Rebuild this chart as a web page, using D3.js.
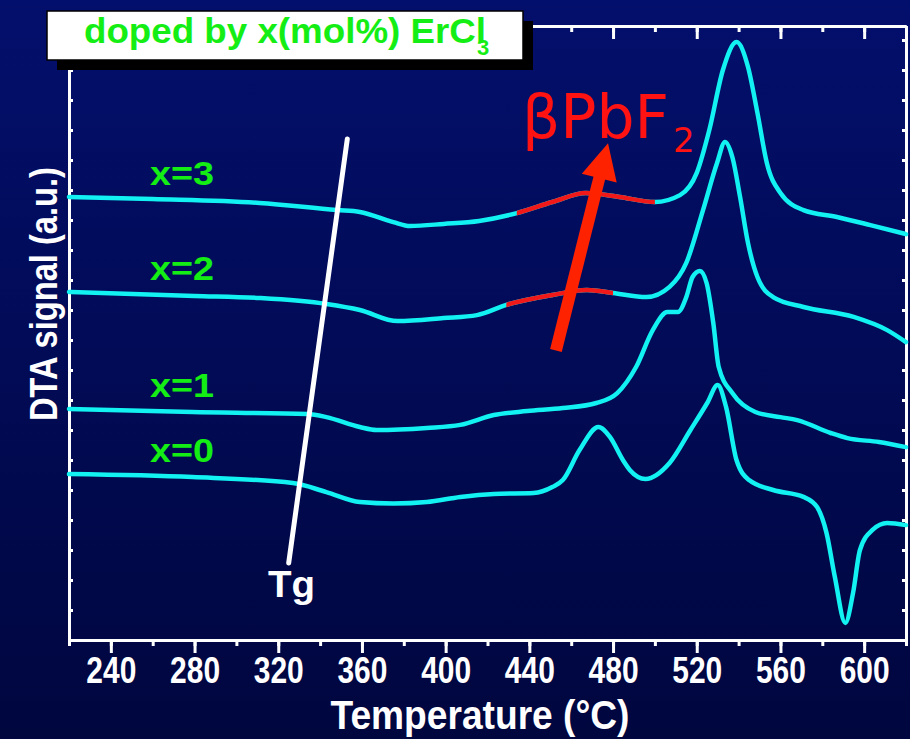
<!DOCTYPE html>
<html>
<head>
<meta charset="utf-8">
<script src="https://cdn.jsdelivr.net/npm/d3@7"></script>
<style>
  body { margin: 0; background: #000a55; }
  svg { display: block; }
</style>
</head>
<body>
<div id="chart"></div>
<script>
// temperature (°C) / DTA signal (a.u.), one pair per glass
const t0 = [220,279,327,343,359,375,391,407,423,442,451,456,464,473,478.5,484.7,488,495.5,507,517,525,530,534,539,545,556.5,571,577.5,582,586,591,594.7,598,604,611,620];
const s0 = [5.53,5.43,5.23,4.93,4.60,4.55,4.60,4.77,4.87,4.90,5.10,5.33,6.33,7.10,6.77,6.00,5.67,5.37,5.90,7.00,7.90,8.50,7.77,6.00,5.33,5.00,4.77,4.43,3.57,2.10,0.57,1.57,3.00,3.67,3.90,3.83];

const t1 = [220,279,334,343,359,367,391,407,423,439,456,472,482,491,499,506,511,515,518,521.5,524.7,527.9,530.5,537,548,560,568,584,592,607,620];
const s1 = [7.70,7.60,7.53,7.43,7.10,7.00,7.07,7.17,7.50,7.63,7.73,7.90,8.23,9.10,10.33,10.93,10.93,11.43,12.10,12.30,11.90,10.57,9.10,8.23,7.60,7.43,7.33,6.90,6.73,6.60,6.43];

const t2 = [220,280,311,343,359,377,399,415,429,451,467.5,480,496,507,515,523,529.7,533.5,537,540.7,544.5,549,556.5,571,595,611,620];
const s2 = [11.60,11.47,11.40,11.20,11.00,10.63,10.73,10.83,11.17,11.50,11.67,11.57,11.43,11.77,12.57,14.33,15.90,16.60,16.10,14.77,13.23,12.10,11.43,11.10,10.77,10.33,9.93];

const t3 = [220,260,311,348,359,375,383,399,416,434,451,467,483,500,512,520,526,532.5,539,544.5,549,553.5,560,571,587,603,620];
const s3 = [14.77,14.70,14.57,14.33,14.27,13.93,13.80,13.87,13.97,14.23,14.60,14.90,14.77,14.60,14.83,15.57,17.00,19.00,19.93,19.10,17.57,15.90,14.90,14.33,14.10,13.83,13.53];

const labels = ["x=0", "x=1", "x=2", "x=3"];
const xMajor = d3.range(240, 601, 40);
const xMinor = d3.range(220, 621, 20);
const yMinor = d3.range(1, 21, 1);

// temperature windows where the βPbF2 hump is marked in red
const redWindows = [null, null, [429, 480], [434, 500]];

// Tg guide and arrow, [temperature, signal]
const tgLine = [[325, 2.57], [353, 16.7]];
const arrowLine = [[452.7, 9.65], [477.6, 16.56]];

const series = [[t0, s0], [t1, s1], [t2, s2], [t3, s3]].map(([t, s], i) => ({
    label: labels[i],
    red: redWindows[i],
    points: t.map((d, j) => [d, s[j]])
}));

const width = 910, height = 739;
const margin = { top: 26, right: 4, bottom: 99, left: 69 };
const font = "'Liberation Sans', Arial, sans-serif";

const x = d3.scaleLinear().domain([220, 620]).range([margin.left, width - margin.right]);
const y = d3.scaleLinear().domain([0, 20.467]).range([height - margin.bottom, margin.top]);

const svg = d3.select("#chart").append("svg")
    .attr("width", width)
    .attr("height", height);

const defs = svg.append("defs");
const grad = defs.append("linearGradient").attr("id", "bg")
    .attr("x1", 0).attr("y1", 0).attr("x2", 0).attr("y2", 1);
grad.append("stop").attr("offset", "0%").attr("stop-color", "#030f6c");
grad.append("stop").attr("offset", "100%").attr("stop-color", "#00063e");

svg.append("rect").attr("width", width).attr("height", height).attr("fill", "url(#bg)");

// axes
function styleAxis(g) {
    g.selectAll(".domain").attr("stroke", "white").attr("stroke-width", 3);
    g.selectAll(".tick line").attr("stroke", "white").attr("stroke-width", 3);
    g.selectAll(".tick text").attr("fill", "white")
        .attr("textLength", 50)
        .attr("lengthAdjust", "spacingAndGlyphs")
        .style("font-family", font)
        .style("font-weight", "bold")
        .style("font-size", "37px");
}

const bottomY = y.range()[0], topY = y.range()[1];
const leftX = x.range()[0], rightX = x.range()[1];

svg.append("g").attr("transform", `translate(0,${bottomY})`)
    .call(d3.axisBottom(x).tickValues(xMinor).tickSize(6).tickSizeOuter(0).tickFormat(""))
    .call(styleAxis);
svg.append("g").attr("transform", `translate(0,${bottomY})`)
    .call(d3.axisBottom(x).tickValues(xMajor).tickSize(13).tickSizeOuter(0).tickPadding(4).tickFormat(d3.format("d")))
    .call(styleAxis);

svg.append("g").attr("transform", `translate(0,${topY})`)
    .call(d3.axisTop(x).tickValues(xMinor).tickSize(-6).tickSizeOuter(0).tickFormat(""))
    .call(styleAxis);
svg.append("g").attr("transform", `translate(0,${topY})`)
    .call(d3.axisTop(x).tickValues(xMajor).tickSize(-13).tickSizeOuter(0).tickFormat(""))
    .call(styleAxis);

svg.append("g").attr("transform", `translate(${leftX},0)`)
    .call(d3.axisLeft(y).tickValues(yMinor).tickSize(-4).tickSizeOuter(0).tickFormat(""))
    .call(styleAxis);
svg.append("g").attr("transform", `translate(${rightX},0)`)
    .call(d3.axisRight(y).tickValues(yMinor).tickSize(-4).tickSizeOuter(0).tickFormat(""))
    .call(styleAxis);

// axis titles
svg.append("text")
    .attr("x", 480)
    .attr("y", 729)
    .attr("text-anchor", "middle")
    .attr("fill", "white")
    .attr("textLength", 299)
    .attr("lengthAdjust", "spacingAndGlyphs")
    .style("font-family", font)
    .style("font-weight", "bold")
    .style("font-size", "41px")
    .text("Temperature (°C)");

svg.append("text")
    .attr("transform", `translate(57,294) rotate(-90)`)
    .attr("text-anchor", "middle")
    .attr("fill", "white")
    .attr("textLength", 254)
    .attr("lengthAdjust", "spacingAndGlyphs")
    .style("font-family", font)
    .style("font-weight", "bold")
    .style("font-size", "39px")
    .text("DTA signal (a.u.)");

// curves
const line = d3.line()
    .x(d => x(d[0]))
    .y(d => y(d[1]))
    .curve(d3.curveMonotoneX);

const curves = svg.append("g");
series.forEach((s, i) => {
    curves.append("path")
        .attr("d", line(s.points))
        .attr("fill", "none")
        .attr("stroke", "#12f2f2")
        .attr("stroke-width", 4.5)
        .attr("stroke-linecap", "round");

    if (s.red) {
        const id = "clip" + i;
        defs.append("clipPath").attr("id", id)
            .append("rect")
            .attr("x", x(s.red[0]))
            .attr("width", x(s.red[1]) - x(s.red[0]))
            .attr("y", 0)
            .attr("height", height);
        curves.append("path")
            .attr("d", line(s.points))
            .attr("fill", "none")
            .attr("stroke", "#f01818")
            .attr("stroke-width", 4.5)
            .attr("clip-path", `url(#${id})`);
    }

    curves.append("text")
        .attr("x", 150)
        .attr("y", y(s.points[0][1]) - 12)
        .attr("fill", "#14ee14")
        .attr("textLength", 64)
        .attr("lengthAdjust", "spacingAndGlyphs")
        .style("font-family", font)
        .style("font-weight", "bold")
        .style("font-size", "34px")
        .text(s.label);
});

// Tg guide
svg.append("line")
    .attr("x1", x(tgLine[0][0])).attr("y1", y(tgLine[0][1]))
    .attr("x2", x(tgLine[1][0])).attr("y2", y(tgLine[1][1]))
    .attr("stroke", "white")
    .attr("stroke-width", 5)
    .attr("stroke-linecap", "round");

svg.append("text")
    .attr("x", 268)
    .attr("y", 597)
    .attr("fill", "white")
    .attr("textLength", 47)
    .attr("lengthAdjust", "spacingAndGlyphs")
    .style("font-family", font)
    .style("font-weight", "bold")
    .style("font-size", "36px")
    .text("Tg");

// red arrow
const p0 = [x(arrowLine[0][0]), y(arrowLine[0][1])];
const p1 = [x(arrowLine[1][0]), y(arrowLine[1][1])];
const len = Math.hypot(p1[0] - p0[0], p1[1] - p0[1]);
const u = [(p1[0] - p0[0]) / len, (p1[1] - p0[1]) / len];
const n = [-u[1], u[0]];
const headLen = 36, headHalf = 18;
const hb = [p1[0] - u[0] * headLen, p1[1] - u[1] * headLen];

svg.append("line")
    .attr("x1", p0[0]).attr("y1", p0[1])
    .attr("x2", hb[0] + u[0] * 2).attr("y2", hb[1] + u[1] * 2)
    .attr("stroke", "#ff2200")
    .attr("stroke-width", 12);
svg.append("polygon")
    .attr("points", [p1, [hb[0] + n[0] * headHalf, hb[1] + n[1] * headHalf], [hb[0] - n[0] * headHalf, hb[1] - n[1] * headHalf]].map(p => p.join(",")).join(" "))
    .attr("fill", "#ff2200");

// βPbF2 annotation, subscript kept in the same text element
const beta = svg.append("text")
    .attr("x", 522).attr("y", 138)
    .attr("fill", "#ff1212")
    .style("font-family", "'DejaVu Sans', sans-serif")
    .style("font-size", "60px");
beta.append("tspan").text("βPbF");
beta.append("tspan")
    .attr("dx", 4).attr("dy", 14)
    .style("font-size", "34px")
    .text("2");

// title box
svg.append("rect")
    .attr("x", 57).attr("y", 21).attr("width", 476).attr("height", 49)
    .attr("fill", "black");
svg.append("rect")
    .attr("x", 47).attr("y", 11).attr("width", 476).attr("height", 49)
    .attr("fill", "white").attr("stroke", "black").attr("stroke-width", 1.5);

const title = svg.append("g").attr("fill", "#14ee14")
    .style("font-family", font)
    .style("font-weight", "bold");
title.append("text")
    .attr("x", 84).attr("y", 43)
    .attr("textLength", 402)
    .attr("lengthAdjust", "spacingAndGlyphs")
    .style("font-size", "35px")
    .text("doped by x(mol%) ErCl");
title.append("text")
    .attr("x", 477).attr("y", 55)
    .style("font-size", "22px")
    .text("3");
</script>
</body>
</html>
